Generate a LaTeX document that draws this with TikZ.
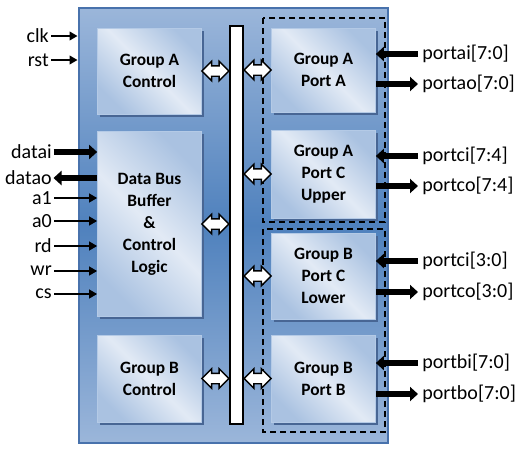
\documentclass[tikz,border=0pt]{standalone}
\usepackage{fontspec}
\setmainfont{Carlito}
\usetikzlibrary{arrows.meta,shapes.arrows,shadows,calc}
\definecolor{chipLight}{RGB}{155,182,218}
\definecolor{chipMid}{RGB}{79,129,189}
\definecolor{chipEdge}{RGB}{72,114,172}
\definecolor{boxLight}{RGB}{226,234,245}
\definecolor{boxDark}{RGB}{170,194,225}
\definecolor{boxEdge}{RGB}{180,202,230}
\definecolor{shadowBlue}{RGB}{72,102,148}
\newcommand{\pxu}{0.75pt}

\tikzset{
  blockbox/.style={draw=boxEdge, line width=0.5pt, left color=boxDark, right color=boxDark, middle color=boxLight, shading angle=135,
    drop shadow={shadow xshift=1.5pt, shadow yshift=-2.2pt, fill=shadowBlue, opacity=1},
    font=\bfseries\fontsize{13}{16.5}\selectfont, align=center, inner sep=0, minimum width=104*\pxu},
  busarrow/.style={double arrow, draw=black, fill=white, line width=1.1pt, minimum height=27*\pxu,
    double arrow head extend=4.5*\pxu, inner xsep=0, inner ysep=4.5*\pxu},
  siglabel/.style={font=\fontsize{15}{17}\selectfont, inner sep=0},
  sigthin/.style={line width=1.4pt, -{Triangle[length=6pt,width=6.5pt]}, shorten <=2*\pxu},
  sigthick/.style={line width=4.5pt, -{Triangle[length=6pt,width=10.5pt]}},
  grpframe/.style={draw=black, line width=1.4pt, dash pattern=on 4.5pt off 3pt},
}

\begin{document}
\begin{tikzpicture}[x=0.75pt,y=-0.75pt]
\useasboundingbox (0,0) rectangle (529,451);

% chip body
\node[draw=chipEdge, line width=2.2pt, top color=chipLight, bottom color=chipLight, middle color=chipMid,
  minimum width=309*\pxu, minimum height=435*\pxu, inner sep=0] (chip) at (233.5,225.5) {};

% left column
\node[blockbox, minimum height=86*\pxu] (gactl) at (149.5,71) {Group A\\Control};
\node[blockbox, minimum height=185*\pxu] (dbb) at (149.5,224) {Data Bus\\Buffer\\\&\\Control\\Logic};
\node[blockbox, minimum height=87*\pxu] (gbctl) at (149.5,378.5) {Group B\\Control};

% internal bus
\node[draw=black, line width=1.5pt, fill=white, minimum width=13*\pxu, minimum height=398*\pxu, inner sep=0] (bus) at (236.5,225) {};

% port groups
\draw[grpframe] (263,18) rectangle (385,222);
\draw[grpframe] (263,229) rectangle (385,432);

% right column
\node[blockbox, minimum height=84*\pxu] (pa) at (323.5,70) {Group A\\Port A};
\node[blockbox, minimum height=88*\pxu] (pcu) at (323.5,174) {Group A\\Port C\\Upper};
\node[blockbox, minimum height=86*\pxu] (pcl) at (323.5,276) {Group B\\Port C\\Lower};
\node[blockbox, minimum height=87*\pxu] (pb) at (323.5,378.5) {Group B\\Port B};

% bus arrows
\node[busarrow] (gactlbus) at ($(gactl.east)!0.5!(gactl.east -| bus.west)$) {};
\node[busarrow] (dbbbus) at ($(dbb.east)!0.5!(dbb.east -| bus.west)$) {};
\node[busarrow] (gbctlbus) at ($(gbctl.east)!0.5!(gbctl.east -| bus.west)$) {};
\node[busarrow] (buspa) at ($(pa.west)!0.5!(pa.west -| bus.east)$) {};
\node[busarrow] (buspcu) at ($(pcu.west)!0.5!(pcu.west -| bus.east)$) {};
\node[busarrow] (buspcl) at ($(pcl.west)!0.5!(pcl.west -| bus.east)$) {};
\node[busarrow] (buspb) at ($(pb.west)!0.5!(pb.west -| bus.east)$) {};

% left signals
\node[siglabel, anchor=east] (clk) at (49,36) {clk};
\node[siglabel, anchor=east] (rst) at (49,60) {rst};
\draw[sigthin] (clk) -- (clk -| chip.west);
\draw[sigthin] (rst) -- (rst -| chip.west);

\node[siglabel, anchor=east] (datai) at (52,152) {datai};
\node[siglabel, anchor=east] (datao) at (52,178) {datao};
\draw[sigthick, shorten <=1.5*\pxu] (datai) -- (datai -| dbb.west);
\draw[sigthick, shorten >=1.5*\pxu] (datao -| dbb.west) -- (datao);

\foreach \sname/\sy in {a1/198, a0/221, rd/246, wr/271, cs/294} {
  \node[siglabel, anchor=east] (\sname) at (52,\sy) {\sname};
  \draw[sigthin] (\sname) -- (\sname -| dbb.west);
}

% right signals
\node[siglabel, anchor=west] (portai) at (422,54) {portai[7:0]};
\node[siglabel, anchor=west] (portao) at (422,84) {portao[7:0]};
\node[siglabel, anchor=west] (portciu) at (422,156) {portci[7:4]};
\node[siglabel, anchor=west] (portcou) at (422,186) {portco[7:4]};
\node[siglabel, anchor=west] (portcil) at (422,261) {portci[3:0]};
\node[siglabel, anchor=west] (portcol) at (422,292) {portco[3:0]};
\node[siglabel, anchor=west] (portbi) at (422,363) {portbi[7:0]};
\node[siglabel, anchor=west] (portbo) at (422,394) {portbo[7:0]};

\draw[sigthick, shorten <=4*\pxu] (portai) -- (portai -| pa.east);
\draw[sigthick, shorten >=4*\pxu] (portao -| pa.east) -- (portao);
\draw[sigthick, shorten <=4*\pxu] (portciu) -- (portciu -| pcu.east);
\draw[sigthick, shorten >=4*\pxu] (portcou -| pcu.east) -- (portcou);
\draw[sigthick, shorten <=4*\pxu] (portcil) -- (portcil -| pcl.east);
\draw[sigthick, shorten >=4*\pxu] (portcol -| pcl.east) -- (portcol);
\draw[sigthick, shorten <=4*\pxu] (portbi) -- (portbi -| pb.east);
\draw[sigthick, shorten >=4*\pxu] (portbo -| pb.east) -- (portbo);
\end{tikzpicture}
\end{document}
